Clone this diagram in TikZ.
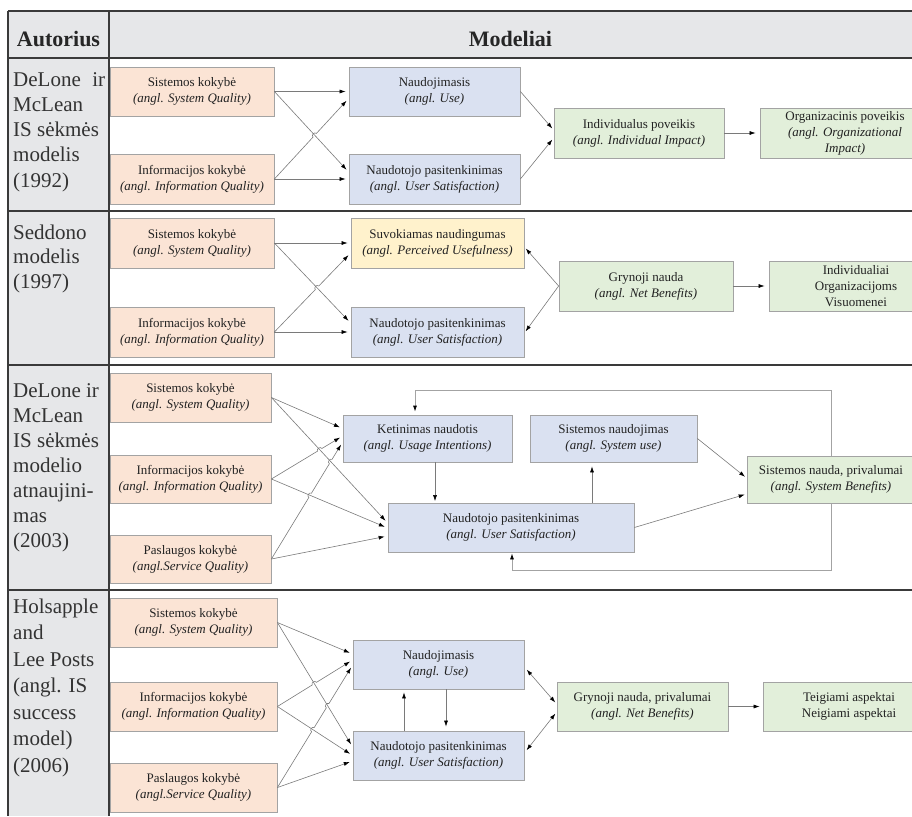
\documentclass[tikz,border=0pt]{standalone}
\usepackage{fontspec}
\setmainfont{Liberation Serif}
\usetikzlibrary{arrows.meta,calc,intersections}

\definecolor{cellgray}{HTML}{E6E7E9}
\definecolor{rulegray}{HTML}{3A3A3A}
\definecolor{qualfill}{HTML}{FBE4D5}
\definecolor{usefill}{HTML}{DAE1F1}
\definecolor{benfill}{HTML}{E2EFDA}
\definecolor{perfill}{HTML}{FFF2CC}
\definecolor{boxline}{HTML}{A3A3A3}
\definecolor{connline}{HTML}{7A7A7A}
\definecolor{ink}{HTML}{222222}
\definecolor{authink}{HTML}{333333}

\tikzset{
  mbox/.style={draw=boxline, line width=0.8pt, align=center, inner sep=2pt,
    text=ink, font=\fontsize{13}{16}\selectfont},
  qualbox/.style={mbox, fill=qualfill},
  usebox/.style={mbox, fill=usefill},
  benbox/.style={mbox, fill=benfill},
  perbox/.style={mbox, fill=perfill},
  arr/.style={draw=connline, line width=0.6pt,
    -{Latex[length=6pt,width=4pt,color=black]}, shorten >=3pt},
  darr/.style={arr, {Latex[length=6pt,width=4pt,color=black]}-{Latex[length=6pt,width=4pt,color=black]},
    shorten <=3pt},
  fback/.style={arr, draw=boxline, line width=0.8pt},
  hop/.style={bend left=90, looseness=1.4},
  rowrule/.style={draw=rulegray, line width=1.4pt},
  author/.style={anchor=base west, inner sep=0pt, text=authink},
  headtext/.style={anchor=base, inner sep=0pt, text=black!85,
    font=\bfseries\fontsize{22}{26}\selectfont},
}

\begin{document}
\begin{tikzpicture}[x=1pt,y=-1pt]
\useasboundingbox (0,0) rectangle (912,816);

% ---- table frame ----
\fill[cellgray] (8,11) rectangle (912,58);
\fill[cellgray] (8,58) rectangle (109,816);
\draw[rowrule] (8,11) -- (912,11);
\draw[rowrule] (8,58) -- (912,58);
\draw[rowrule] (8,211) -- (912,211);
\draw[rowrule] (8,365) -- (912,365);
\draw[rowrule] (8,590) -- (912,590);
\draw[rowrule] (8,11) -- (8,816);
\draw[rowrule] (109,11) -- (109,816);

\node[headtext] (hA) at (58.5,46.5) {Autorius};
\node[headtext] (hM) at (510.5,46.5) {Modeliai};

% ---- author column ----
\node[author] (a1) at (13,86) {\parbox[t]{92pt}{\fontsize{21}{25.3}\selectfont\raggedright
  DeLone\hfill ir\\McLean\\IS sėkmės\\modelis\\(1992)}};
\node[author] (a2) at (13,239) {\parbox[t]{92pt}{\fontsize{21}{24.5}\selectfont\raggedright
  Seddono\\modelis\\(1997)}};
\node[author] (a3) at (13,397) {\parbox[t]{92pt}{\fontsize{21}{25}\selectfont\raggedright
  DeLone ir\\McLean\\IS sėkmės\\modelio\\atnaujini-\\mas\\(2003)}};
\node[author] (a4) at (13,613) {\parbox[t]{92pt}{\fontsize{21}{26.5}\selectfont\raggedright
  Holsapple\\and\\Lee Posts\\(angl. IS\\success\\model)\\(2006)}};

% ================= row 1: DeLone & McLean (1992) =================
\node[qualbox, minimum width=164pt, minimum height=49pt] (r1s) at (192,91.5)
  {Sistemos kokybė\\\textit{(angl. System Quality)}};
\node[qualbox, minimum width=164pt, minimum height=50pt] (r1i) at (192,179)
  {Informacijos kokybė\\\textit{(angl. Information Quality)}};
\node[usebox, minimum width=171pt, minimum height=49pt] (r1u) at (434.5,91.5)
  {Naudojimasis\\\textit{(angl. Use)}};
\node[usebox, minimum width=171pt, minimum height=50pt] (r1n) at (434.5,179)
  {Naudotojo pasitenkinimas\\\textit{(angl. User Satisfaction)}};
\node[benbox, minimum width=170pt, minimum height=50pt] (r1ii) at (639,133)
  {Individualus poveikis\\\textit{(angl. Individual Impact)}};
\node[benbox, minimum width=170pt, minimum height=50pt] (r1o) at (845,133)
  {Organizacinis poveikis\\\textit{(angl. Organizational}\\\textit{Impact)}};

\coordinate (t1sn) at ($(r1n.west)+(0,-7)$);
\coordinate (t1iu) at ($(r1u.west)+(0,7)$);
\path[name path=h1a] (r1s.east) -- (t1sn);
\path[name path=h1b] (r1i.east) -- (t1iu);
\path[name intersections={of=h1a and h1b, by=x1}];
\draw[arr] (r1s.east) -- (r1u.west);
\draw[arr] (r1s.east) -- (t1sn);
\draw[arr] (r1i.east) -- ($(x1)!2.5pt!(r1i.east)$) to[hop] ($(x1)!2.5pt!(t1iu)$) -- (t1iu);
\draw[arr] (r1i.east) -- (r1n.west);
\draw[arr, shorten >=2pt] (r1u.east) -- ($(r1ii.west)+(0,-3)$);
\draw[arr, shorten >=2pt] (r1n.east) -- ($(r1ii.west)+(0,5)$);
\draw[arr, shorten >=4pt] (r1ii.east) -- (r1o.west);

% ================= row 2: Seddon (1997) =================
\node[qualbox, minimum width=164pt, minimum height=50pt] (r2s) at (192,243)
  {Sistemos kokybė\\\textit{(angl. System Quality)}};
\node[qualbox, minimum width=164pt, minimum height=50pt] (r2i) at (192,332)
  {Informacijos kokybė\\\textit{(angl. Information Quality)}};
\node[perbox, minimum width=173pt, minimum height=50pt] (r2p) at (437.5,243)
  {Suvokiamas naudingumas\\\textit{(angl. Perceived Usefulness)}};
\node[usebox, minimum width=173pt, minimum height=50pt] (r2n) at (437.5,332)
  {Naudotojo pasitenkinimas\\\textit{(angl. User Satisfaction)}};
\node[benbox, minimum width=174pt, minimum height=50pt] (r2g) at (646,286)
  {Grynoji nauda\\\textit{(angl. Net Benefits)}};
\node[benbox, minimum width=174pt, minimum height=50pt] (r2v) at (856,286)
  {Individualiai\\Organizacijoms\\Visuomenei};

\coordinate (t2sn) at ($(r2n.west)+(0,-9)$);
\coordinate (t2ip) at ($(r2p.west)+(0,10)$);
\path[name path=h2a] (r2s.east) -- (t2sn);
\path[name path=h2b] (r2i.east) -- (t2ip);
\path[name intersections={of=h2a and h2b, by=x2}];
\draw[arr] (r2s.east) -- (r2p.west);
\draw[arr] (r2s.east) -- (t2sn);
\draw[arr] (r2i.east) -- ($(x2)!2.5pt!(r2i.east)$) to[hop] ($(x2)!2.5pt!(t2ip)$) -- (t2ip);
\draw[arr] (r2i.east) -- (r2n.west);
\draw[arr, shorten >=2pt] (r2g.west) -- ($(r2p.east)+(0,4)$);
\draw[arr, shorten >=2pt] (r2g.west) -- ($(r2n.east)+(0,1)$);
\draw[arr, shorten >=4pt] (r2g.east) -- (r2v.west);

% ================= row 3: DeLone & McLean update (2003) =================
\node[qualbox, minimum width=161pt, minimum height=49pt] (r3s) at (190.5,397.5)
  {Sistemos kokybė\\\textit{(angl. System Quality)}};
\node[qualbox, minimum width=161pt, minimum height=48pt] (r3i) at (190.5,479)
  {Informacijos kokybė\\\textit{(angl. Information Quality)}};
\node[qualbox, minimum width=161pt, minimum height=48pt] (r3p) at (190.5,559)
  {Paslaugos kokybė\\\textit{(angl.Service Quality)}};
\node[usebox, minimum width=169pt, minimum height=47pt] (r3k) at (427.5,438.5)
  {Ketinimas naudotis\\\textit{(angl. Usage Intentions)}};
\node[usebox, minimum width=167pt, minimum height=47pt] (r3u) at (613.5,438.5)
  {Sistemos naudojimas\\\textit{(angl. System use)}};
\node[usebox, minimum width=246pt, minimum height=49pt] (r3n) at (511,527.5)
  {Naudotojo pasitenkinimas\\\textit{(angl. User Satisfaction)}};
\node[benbox, minimum width=168pt, minimum height=47pt] (r3b) at (831,479.5)
  {Sistemos nauda, privalumai\\\textit{(angl. System Benefits)}};

\coordinate (t3sk) at ($(r3k.west)+(0,-10)$);
\coordinate (t3sn) at ($(r3n.west)+(0,-4.5)$);
\coordinate (t3ik) at ($(r3k.west)+(0,-2.5)$);
\coordinate (t3in) at ($(r3n.west)+(0,0.5)$);
\coordinate (t3pk) at ($(r3k.west)+(0,3.5)$);
\coordinate (t3pn) at ($(r3n.west)+(0,8.5)$);
\path[name path=h3sn] (r3s.east) -- (t3sn);
\path[name path=h3in] (r3i.east) -- (t3in);
\path[name path=h3ik] (r3i.east) -- (t3ik);
\path[name path=h3pk] (r3p.east) -- (t3pk);
\path[name intersections={of=h3ik and h3sn, by=x3a}];
\path[name intersections={of=h3pk and h3in, by=x3b}];
\path[name intersections={of=h3pk and h3sn, by=x3c}];
\draw[arr] (r3s.east) -- (t3sk);
\draw[arr] (r3s.east) -- (t3sn);
\draw[arr] (r3i.east) -- ($(x3a)!2.5pt!(r3i.east)$) to[hop] ($(x3a)!2.5pt!(t3ik)$) -- (t3ik);
\draw[arr] (r3i.east) -- (t3in);
\draw[arr] (r3p.east) -- ($(x3b)!2.5pt!(r3p.east)$) to[hop] ($(x3b)!2.5pt!(t3pk)$)
  -- ($(x3c)!2.5pt!(r3p.east)$) to[hop] ($(x3c)!2.5pt!(t3pk)$) -- (t3pk);
\draw[arr] (r3p.east) -- (t3pn);

\coordinate (k3a) at ($(r3k.south)+(7.5,0)$);
\draw[arr, shorten >=1.5pt] (k3a) -- (k3a |- r3n.north);
\coordinate (u3a) at ($(r3u.south)+(-21.5,0)$);
\draw[arr, shorten >=4pt] (u3a |- r3n.north) -- (u3a);
\draw[arr, shorten >=2pt] (r3u.east) -- ($(r3b.west)+(0,-1.5)$);
\draw[arr, shorten >=2pt] (r3n.east) -- ($(r3b.west)+(0,14.5)$);

% feedback loops from the benefits box
\coordinate (fb1) at (415,390);
\draw[fback] (r3b.north) |- (fb1) -- (fb1 |- r3k.north);
\coordinate (fb2) at (512,570);
\draw[fback, shorten >=1pt] (r3b.south) |- (fb2) -- (fb2 |- r3n.south);

% ================= row 4: Holsapple & Lee-Post (2006) =================
\node[qualbox, minimum width=167pt, minimum height=49pt] (r4s) at (193.5,622.5)
  {Sistemos kokybė\\\textit{(angl. System Quality)}};
\node[qualbox, minimum width=167pt, minimum height=49pt] (r4i) at (193.5,706.5)
  {Informacijos kokybė\\\textit{(angl. Information Quality)}};
\node[qualbox, minimum width=167pt, minimum height=49pt] (r4p) at (193.5,787.5)
  {Paslaugos kokybė\\\textit{(angl.Service Quality)}};
\node[usebox, minimum width=171pt, minimum height=49pt] (r4u) at (438.5,664.5)
  {Naudojimasis\\\textit{(angl. Use)}};
\node[usebox, minimum width=171pt, minimum height=49pt] (r4n) at (438.5,755.5)
  {Naudotojo pasitenkinimas\\\textit{(angl. User Satisfaction)}};
\node[benbox, minimum width=171pt, minimum height=49pt] (r4g) at (642.5,706.5)
  {Grynoji nauda, privalumai\\\textit{(angl. Net Benefits)}};
\node[benbox, minimum width=172pt, minimum height=49pt] (r4t) at (849,706.5)
  {Teigiami aspektai\\Neigiami aspektai};

\coordinate (t4su) at ($(r4u.west)+(0,-10.5)$);
\coordinate (t4sn) at ($(r4n.west)+(0,-8.5)$);
\coordinate (t4iu) at ($(r4u.west)+(0,-4.5)$);
\coordinate (t4in) at (r4n.west);
\coordinate (t4pu) at ($(r4u.west)+(0,0.5)$);
\coordinate (t4pn) at ($(r4n.west)+(0,5.5)$);
\path[name path=h4sn] (r4s.east) -- (t4sn);
\path[name path=h4in] (r4i.east) -- (t4in);
\path[name path=h4iu] (r4i.east) -- (t4iu);
\path[name path=h4pu] (r4p.east) -- (t4pu);
\path[name intersections={of=h4iu and h4sn, by=x4a}];
\path[name intersections={of=h4pu and h4in, by=x4b}];
\path[name intersections={of=h4pu and h4sn, by=x4c}];
\draw[arr] (r4s.east) -- (t4su);
\draw[arr] (r4s.east) -- (t4sn);
\draw[arr] (r4i.east) -- ($(x4a)!2.5pt!(r4i.east)$) to[hop] ($(x4a)!2.5pt!(t4iu)$) -- (t4iu);
\draw[arr] (r4i.east) -- (t4in);
\draw[arr] (r4p.east) -- ($(x4b)!2.5pt!(r4p.east)$) to[hop] ($(x4b)!2.5pt!(t4pu)$)
  -- ($(x4c)!2.5pt!(r4p.east)$) to[hop] ($(x4c)!2.5pt!(t4pu)$) -- (t4pu);
\draw[arr] (r4p.east) -- (t4pn);

\coordinate (v4a) at ($(r4u.south)+(-34.5,0)$);
\draw[arr] (v4a |- r4n.north) -- (v4a);
\coordinate (v4b) at ($(r4u.south)+(7.5,0)$);
\draw[arr, shorten >=4pt] (v4b) -- (v4b |- r4n.north);
\draw[darr, shorten <=3.5pt, shorten >=2pt] ($(r4u.east)+(0,2.5)$) -- ($(r4g.west)+(0,-2.5)$);
\draw[darr, shorten <=3.5pt, shorten >=2pt] ($(r4n.east)+(0,-2.5)$) -- ($(r4g.west)+(0,5.5)$);
\draw[arr] (r4g.east) -- (r4t.west);

\end{tikzpicture}
\end{document}
